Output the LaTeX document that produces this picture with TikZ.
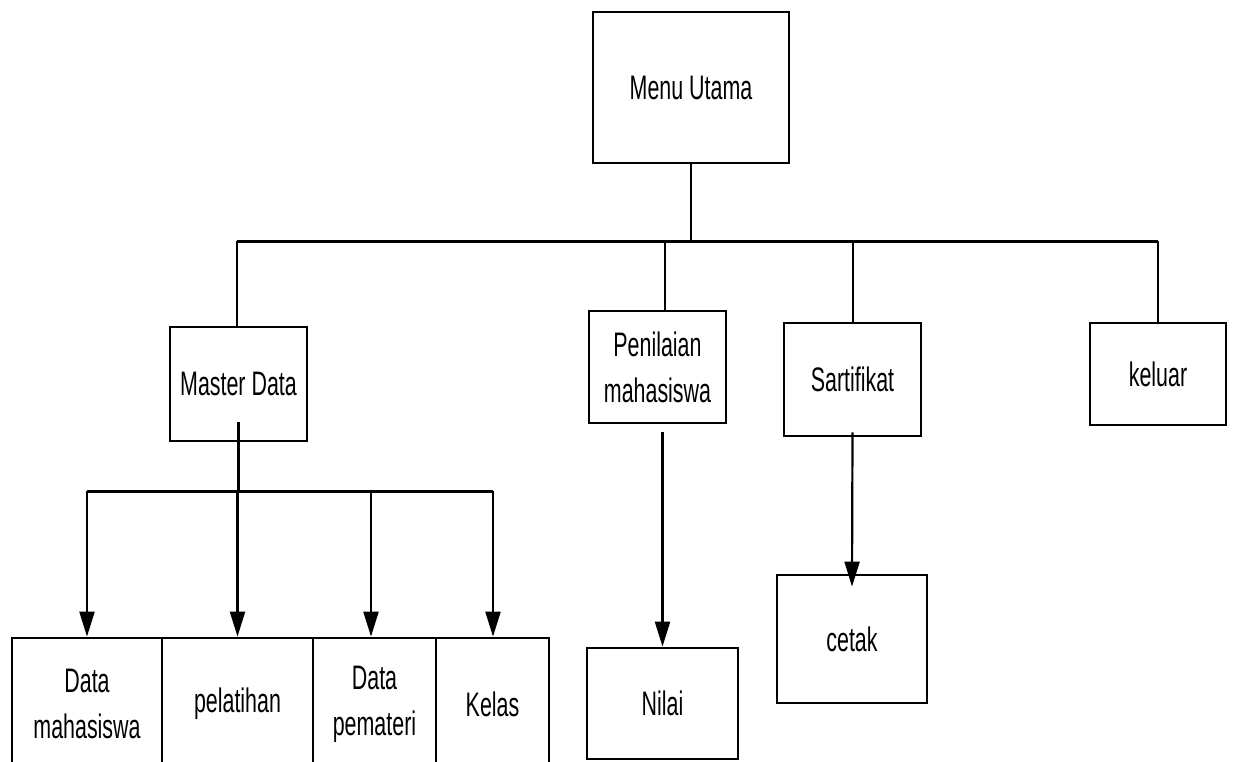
\documentclass[tikz,border=0pt]{standalone}
\usepackage{fontspec}
\setmainfont{Liberation Sans}[FakeStretch=0.63]
\usetikzlibrary{arrows.meta}
\begin{document}
\begin{tikzpicture}[x=1pt,y=-1pt,
  box/.style={draw,line width=2.8pt,rectangle,inner sep=0pt,align=center,
    font=\fontsize{34}{46}\selectfont},
  link/.style={line width=2pt},
  busline/.style={line width=3pt},
  arr/.style={line width=2.2pt,-{Triangle[length=25pt,width=15pt]}}]
\useasboundingbox (0,0) rectangle (1234,761);
\fill[white] (0,0) rectangle (1234,761);

% top level
\node[box,minimum width=196pt,minimum height=151pt] (menu) at (691,87.5) {Menu Utama};

% second level
\node[box,minimum width=137pt,minimum height=114pt] (master) at (238.5,384) {Master Data};
\node[box,minimum width=137pt,minimum height=112pt] (pen) at (657.5,367) {Penilaian\\mahasiswa};
\node[box,minimum width=137pt,minimum height=113pt] (sar) at (852.5,379.5) {Sartifikat};
\node[box,minimum width=136pt,minimum height=102pt] (kel) at (1158,374) {keluar};

% third level
\node[box,minimum width=151pt,minimum height=111pt] (nilai) at (662.5,703.5) {Nilai};
\node[box,minimum width=150pt,minimum height=128pt] (cetak) at (852,639) {cetak};
\node[box,minimum width=150pt,minimum height=132pt] (dm) at (87,704) {Data\\mahasiswa};
\node[box,minimum width=151pt,minimum height=132pt] (pel) at (237.5,704) {pelatihan};
\node[box,minimum width=123pt,minimum height=132pt] (dp) at (374.5,704) {Data\\pemateri};
\node[box,minimum width=113pt,minimum height=132pt] (kls) at (492.5,704) {Kelas};

% main bus
\coordinate (busL) at (237,241);
\coordinate (busR) at (1158,241);
\coordinate (jpen) at (665,241);
\draw[busline] (busL) -- (busR);
\draw[link] (menu.south) -- (menu.south |- busL);
\draw[link] (busL) -- (busL |- master.north);
\draw[link] (jpen) -- (jpen |- pen.north);
\draw[link] (sar.north |- busL) -- (sar.north);
\draw[link] (busR) -- (busR |- kel.north);

% master data bus
\coordinate (subL) at (87,491);
\coordinate (subR) at (493,491);
\coordinate (jdp) at (371,491);
\draw[busline] (subL) -- (subR);
\draw[link,line width=2.6pt] ([yshift=20pt]master.south) -- (master.south |- subL);
\draw[arr] (subL) -- (dm.north);
\draw[arr] (pel.north |- subL) -- (pel.north);
\draw[arr] (jdp) -- (jdp |- dp.north);
\draw[arr] (subR) -- (subR |- kls.north);

% single children
\draw[arr] ([yshift=-8pt]pen.south -| nilai.north) -- (nilai.north);
\draw[arr] ([yshift=5pt]sar.south) -- ([yshift=-13pt]cetak.north);
\end{tikzpicture}
\end{document}
